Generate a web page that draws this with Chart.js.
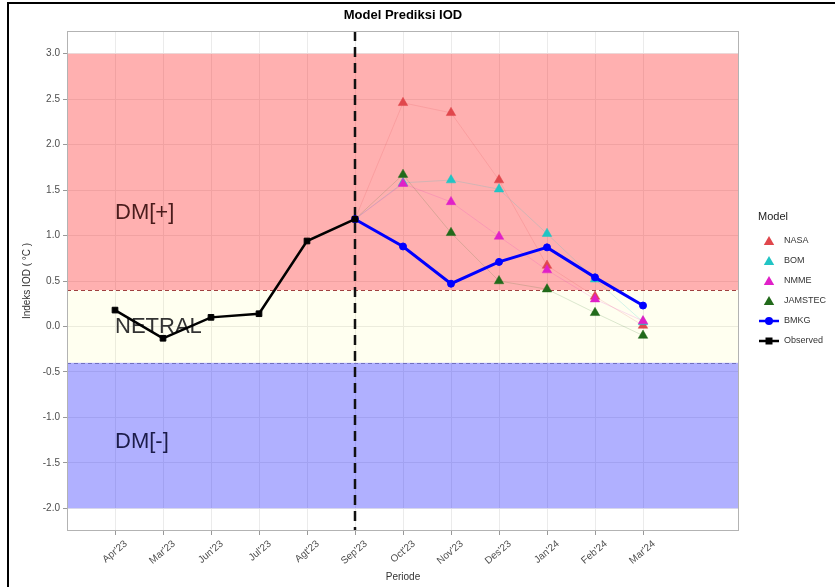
<!DOCTYPE html>
<html>
<head>
<meta charset="utf-8">
<script src="https://cdn.jsdelivr.net/npm/chart.js@4.4.1/dist/chart.umd.min.js"></script>
<style>
  html, body { margin: 0; padding: 0; background: #fff; }
  #wrap { width: 835px; height: 587px; }
</style>
</head>
<body>
<div id="wrap"><canvas id="iodChart" width="835" height="587"></canvas></div>
<script>
const months = ["Apr'23", "Mar'23", "Jun'23", "Jul'23", "Agt'23", "Sep'23",
                "Oct'23", "Nov'23", "Des'23", "Jan'24", "Feb'24", "Mar'24"];

const observed = [0.18, -0.13, 0.10, 0.14, 0.94, 1.18, null, null, null, null, null, null];
const bmkg     = [null, null, null, null, null, 1.18, 0.88, 0.47, 0.71, 0.87, 0.54, 0.23];
const nasa     = [null, null, null, null, null, 1.18, 2.46, 2.35, 1.61, 0.67, 0.33, 0.01];
const bom      = [null, null, null, null, null, 1.18, 1.58, 1.61, 1.51, 1.02, 0.52, 0.05];
const nmme     = [null, null, null, null, null, 1.18, 1.57, 1.37, 0.99, 0.62, 0.30, 0.06];
const jamstec  = [null, null, null, null, null, 1.18, 1.67, 1.03, 0.50, 0.41, 0.15, -0.10];

const yTicks = [-2.0, -1.5, -1.0, -0.5, 0.0, 0.5, 1.0, 1.5, 2.0, 2.5, 3.0];

// IOD zones
const zoneNames = ["DM[+]", "NETRAL", "DM[-]"];
const zoneLow   = [0.4, -0.4, -2.0];
const zoneHigh  = [3.0, 0.4, -0.4];
const onsetIndex = 5; // Sep'23, start of forecast

const FONT = '"Liberation Sans", Arial, sans-serif';
Chart.defaults.font.family = FONT;

const toPoints = values => values.map((v, i) => ({ x: i, y: v }));

function modelSet(label, values, color, faint) {
  return {
    label: label,
    data: toPoints(values),
    borderColor: faint,
    borderWidth: 1,
    pointStyle: 'triangle',
    pointBackgroundColor: color,
    pointBorderColor: color,
    pointBorderWidth: 0.5,
    pointRadius: ctx => ctx.dataIndex === onsetIndex ? 0 : 5.5,
    tension: 0
  };
}

const legendItems = [
  { name: 'NASA', color: '#E0474C', shape: 'triangle' },
  { name: 'BOM', color: '#21C4C4', shape: 'triangle' },
  { name: 'NMME', color: '#E020C8', shape: 'triangle' },
  { name: 'JAMSTEC', color: '#216A1A', shape: 'triangle' },
  { name: 'BMKG', color: '#0000FF', shape: 'circle' },
  { name: 'Observed', color: '#000000', shape: 'rect' }
];

function drawMark(ctx, shape, x, y, r, color) {
  ctx.fillStyle = color;
  ctx.beginPath();
  if (shape === 'triangle') {
    ctx.moveTo(x, y - r);
    ctx.lineTo(x + r * 0.866, y + r * 0.5);
    ctx.lineTo(x - r * 0.866, y + r * 0.5);
    ctx.closePath();
  } else if (shape === 'circle') {
    ctx.arc(x, y, r, 0, Math.PI * 2);
  } else {
    ctx.rect(x - r, y - r, r * 2, r * 2);
  }
  ctx.fill();
}

const panelPlugin = {
  id: 'panel',
  beforeDatasetsDraw(chart) {
    const { ctx, chartArea: a, scales: { x, y } } = chart;
    ctx.save();
    const fills = ['rgba(255,0,0,0.31)', 'rgba(255,255,0,0.06)', 'rgba(0,0,255,0.31)'];
    zoneLow.forEach((lo, i) => {
      const top = y.getPixelForValue(zoneHigh[i]);
      const bot = y.getPixelForValue(lo);
      ctx.fillStyle = fills[i];
      ctx.fillRect(a.left, top, a.right - a.left, bot - top);
    });

    // zone thresholds
    ctx.setLineDash([4, 3]);
    ctx.lineWidth = 1;
    [[zoneLow[0], '#A04040'], [zoneHigh[2], '#7070C0']].forEach(([v, c]) => {
      const py = Math.round(y.getPixelForValue(v)) + 0.5;
      ctx.strokeStyle = c;
      ctx.beginPath();
      ctx.moveTo(a.left, py);
      ctx.lineTo(a.right, py);
      ctx.stroke();
    });

    // forecast start
    const px = x.getPixelForValue(onsetIndex);
    ctx.setLineDash([10, 6]);
    ctx.lineWidth = 2.5;
    ctx.strokeStyle = '#111';
    ctx.beginPath();
    ctx.moveTo(px, a.top);
    ctx.lineTo(px, a.bottom);
    ctx.stroke();
    ctx.setLineDash([]);

    // zone names
    const labelY = [1.25, 0.0, -1.27];
    const labelColors = ['#4A1C1C', '#333333', '#1C1C4A'];
    ctx.font = '22px ' + FONT;
    ctx.textAlign = 'left';
    ctx.textBaseline = 'middle';
    zoneNames.forEach((n, i) => {
      ctx.fillStyle = labelColors[i];
      ctx.fillText(n, x.getPixelForValue(0), y.getPixelForValue(labelY[i]));
    });
    ctx.restore();
  },
  afterDraw(chart) {
    const { ctx, chartArea: a } = chart;
    ctx.save();
    // panel border
    ctx.strokeStyle = '#B3B3B3';
    ctx.lineWidth = 1;
    ctx.strokeRect(a.left + 0.5, a.top + 0.5, a.right - a.left - 1, a.bottom - a.top - 1);

    // title
    ctx.fillStyle = '#000';
    ctx.font = 'bold 13px ' + FONT;
    ctx.textAlign = 'center';
    ctx.textBaseline = 'middle';
    ctx.fillText('Model Prediksi IOD', (a.left + a.right) / 2, 15);

    // legend
    ctx.textAlign = 'left';
    ctx.font = '11px ' + FONT;
    ctx.fillStyle = '#222';
    ctx.fillText('Model', 758, 217);
    ctx.font = '9px ' + FONT;
    legendItems.forEach((it, i) => {
      const cy = 241 + i * 20;
      if (it.shape === 'triangle') {
        drawMark(ctx, 'triangle', 769, cy + 1, 6, it.color);
      } else {
        ctx.strokeStyle = it.color;
        ctx.lineWidth = 2.5;
        ctx.beginPath();
        ctx.moveTo(759, cy);
        ctx.lineTo(779, cy);
        ctx.stroke();
        drawMark(ctx, it.shape, 769, cy, it.shape === 'rect' ? 3.5 : 4, it.color);
      }
      ctx.fillStyle = '#333';
      ctx.fillText(it.name, 784, cy);
    });

    // outer frame
    ctx.strokeStyle = '#000';
    ctx.lineWidth = 2;
    ctx.beginPath();
    ctx.moveTo(8, 587);
    ctx.lineTo(8, 3);
    ctx.lineTo(835, 3);
    ctx.stroke();
    ctx.restore();
  }
};

new Chart(document.getElementById('iodChart'), {
  type: 'line',
  data: {
    datasets: [
      {
        label: 'Observed',
        data: toPoints(observed),
        borderColor: '#000',
        borderWidth: 2.5,
        pointStyle: 'rect',
        pointRadius: 4,
        pointBorderWidth: 1,
        pointBackgroundColor: '#000',
        pointBorderColor: '#000'
      },
      {
        label: 'BMKG',
        data: toPoints(bmkg),
        borderColor: '#0000FF',
        borderWidth: 3,
        pointStyle: 'circle',
        pointRadius: 3.5,
        pointBorderWidth: 1,
        pointBackgroundColor: '#0000FF',
        pointBorderColor: '#0000FF'
      },
      modelSet('JAMSTEC', jamstec, '#216A1A', 'rgba(33,106,26,0.16)'),
      modelSet('NMME', nmme, '#E020C8', 'rgba(224,32,200,0.16)'),
      modelSet('BOM', bom, '#21C4C4', 'rgba(33,196,196,0.2)'),
      modelSet('NASA', nasa, '#E0474C', 'rgba(224,71,76,0.16)')
    ]
  },
  options: {
    responsive: false,
    animation: false,
    events: [],
    layout: { padding: { left: 0, right: 96, top: 31, bottom: 0 } },
    plugins: {
      legend: { display: false },
      title: { display: false },
      tooltip: { enabled: false }
    },
    scales: {
      x: {
        type: 'linear',
        min: -1,
        max: 13,
        afterBuildTicks: s => { s.ticks = months.map((m, i) => ({ value: i })); },
        afterFit: s => { s.height = 56; },
        ticks: {
          callback: v => months[v],
          autoSkip: false,
          minRotation: 40,
          maxRotation: 40,
          labelOffset: 11,
          padding: 3,
          color: '#4D4D4D',
          font: { size: 10 }
        },
        grid: { color: '#EBEBEB', lineWidth: 1, tickLength: 4, tickColor: '#999' },
        border: { display: false },
        title: {
          display: true,
          text: 'Periode',
          color: '#333',
          font: { size: 10 },
          padding: { top: 0, bottom: 4 }
        }
      },
      y: {
        min: -2.25,
        max: 3.25,
        afterBuildTicks: s => { s.ticks = yTicks.map(v => ({ value: v })); },
        afterFit: s => { s.width = 67; },
        ticks: {
          callback: v => v.toFixed(1),
          color: '#4D4D4D',
          font: { size: 10 },
          padding: 3
        },
        grid: { color: '#EBEBEB', lineWidth: 1, tickLength: 4, tickColor: '#999' },
        border: { display: false },
        title: {
          display: true,
          text: 'Indeks IOD ( °C )',
          color: '#333',
          font: { size: 10 },
          padding: { top: 21, bottom: 0 }
        }
      }
    }
  },
  plugins: [panelPlugin]
});
</script>
</body>
</html>
